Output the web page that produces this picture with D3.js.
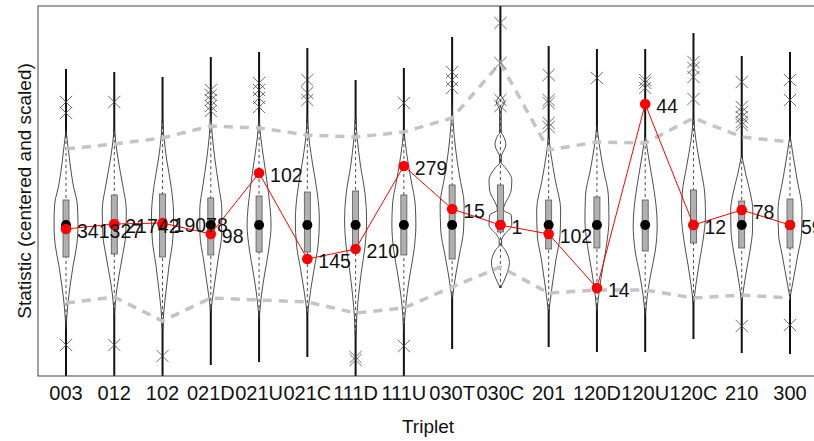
<!DOCTYPE html>
<html>
<head>
<meta charset="utf-8">
<script src="https://cdn.jsdelivr.net/npm/d3@7"></script>
<style>
  body { margin: 0; background: #fff; }
  svg { display: block; font-family: "Liberation Sans", Arial, sans-serif; }
</style>
</head>
<body>
<svg id="chart" width="814" height="441"></svg>
<script>
// triad types and the observed census counts
let triplets = ['003','012','102','021D','021U','021C','111D','111U','030T','030C','201','120D','120U','120C','210','300'];
let counts   = ['341327','21742','19078','98','102','145','210','279','15','1','102','14','44','12','78','59'];

// observed statistic (red) and simulated medians
let observed = [-0.08, 0.02, 0.04, -0.18, 1.04, -0.68, -0.48, 1.18, 0.32, 0, -0.18, -1.26, 2.42, 0, 0.3, 0];
let medians  = [0, 0, 0, 0, 0, 0, 0, 0, 0, 0, 0, 0, 0, 0, 0, 0];

// boxes (upper / lower quartile)
let q3 = [0.5, 0.6, 0.62, 0.54, 0.58, 0.66, 0.68, 0.6, 0.8, 0.8, 0.5, 0.56, 0.5, 0.7, 0.48, 0.52];
let q1 = [-0.64, -0.58, -0.64, -0.6, -0.54, -0.54, -0.52, -0.6, -0.68, -0.14, -0.48, -0.46, -0.52, -0.36, -0.46, -0.46];

// full range lines
let rangeHi = [3.12, 3.06, 2.96, 3.36, 3.46, 3.54, 2.9, 3.14, 3.76, 4.45, 3.58, 3.52, 3.52, 3.84, 3.38, 3.46];
let rangeLo = [-3.1, -3.1, -3.1, -2.8, -2.74, -2.64, -3.1, -3.1, -2.48, -1.26, -2.44, -2.54, -2.54, -2.28, -2.56, -2.58];

// grey dashed bounds
let upperBound = [1.52, 1.62, 1.74, 1.98, 1.94, 1.8, 1.76, 1.86, 2.14, 3.24, 1.5, 1.66, 1.64, 2.14, 1.76, 1.66];
let lowerBound = [-1.56, -1.44, -1.92, -1.46, -1.5, -1.54, -1.76, -1.66, -1.24, -0.84, -1.36, -1.3, -1.3, -1.46, -1.4, -1.46];

// outlying simulations
let outliers = [
  [2.46, 2.24, -2.4],
  [2.46, -2.4],
  [-2.62],
  [2.7, 2.6, 2.5, 2.38, 2.28],
  [2.84, 2.7, 2.54, 2.36],
  [2.9, 2.64, 2.5],
  [-2.64, -2.7],
  [2.44, -2.42],
  [3.06, 2.9, 2.74],
  [4.04, 3.24, 2.5, 2.38],
  [3.0, 2.5, 2.44, 2.04, 1.96],
  [2.94],
  [2.9, 2.84, 2.74],
  [3.26, 3.14, 2.96, 2.52],
  [2.86, 2.36, 2.26, 2.16, 2.06, 2.0, -2.02],
  [2.9, 2.5, -2.0]
];

// violin densities: [statistic, relative density]
let violins = [
  [[1.9,0],[1.6,0.15],[1.2,0.35],[0.8,0.6],[0.4,0.95],[0,1],[-0.4,0.9],[-0.8,0.6],[-1.2,0.35],[-1.6,0.15],[-2.1,0]],
  [[1.96,0],[1.6,0.15],[1.2,0.4],[0.8,0.7],[0.3,1],[-0.2,0.95],[-0.6,0.7],[-1.0,0.4],[-1.4,0.15],[-1.84,0]],
  [[2.2,0],[1.8,0.1],[1.3,0.35],[0.8,0.7],[0.2,0.92],[-0.3,0.85],[-0.8,0.55],[-1.3,0.3],[-1.7,0.12],[-2.16,0]],
  [[2.3,0],[1.8,0.12],[1.3,0.35],[0.8,0.65],[0.3,0.92],[-0.2,0.9],[-0.7,0.6],[-1.2,0.3],[-1.5,0.12],[-1.76,0]],
  [[2.24,0],[1.8,0.12],[1.3,0.4],[0.7,0.75],[0,1],[-0.5,0.8],[-1.0,0.45],[-1.4,0.2],[-1.9,0]],
  [[2.2,0],[1.7,0.15],[1.2,0.45],[0.6,0.85],[0.1,1],[-0.4,0.9],[-0.9,0.55],[-1.3,0.28],[-1.8,0]],
  [[2.2,0],[1.7,0.15],[1.2,0.4],[0.6,0.8],[0.1,0.92],[-0.4,0.8],[-0.9,0.5],[-1.4,0.25],[-1.9,0.08],[-2.3,0]],
  [[1.9,0],[1.4,0.25],[0.9,0.6],[0.4,0.95],[0,1],[-0.5,0.85],[-1.0,0.5],[-1.5,0.2],[-2.16,0]],
  [[2.44,0],[2.0,0.1],[1.5,0.3],[1.0,0.6],[0.4,1],[-0.1,0.95],[-0.6,0.6],[-1.0,0.3],[-1.5,0]],
  [[2.6,0],[2.45,0.33],[2.3,0.05],[1.9,0.05],[1.85,0.05],[1.8,0.2],[1.6,0.45],[1.35,0.05],[1.25,0.05],[1.15,0.4],[0.9,0.95],[0.7,0.9],[0.3,0.25],[0.2,0.9],[0,0.95],[-0.2,0.3],[-0.3,0.1],[-0.4,0.1],[-0.5,0.4],[-0.75,0.75],[-1.0,0.5],[-1.26,0]],
  [[1.8,0],[1.4,0.2],[0.9,0.55],[0.3,1],[-0.2,0.95],[-0.7,0.6],[-1.2,0.3],[-1.76,0]],
  [[2.0,0],[1.6,0.2],[1.1,0.55],[0.6,0.95],[0.1,1],[-0.4,0.8],[-0.9,0.45],[-1.3,0.2],[-1.74,0]],
  [[1.8,0],[1.4,0.25],[0.9,0.6],[0.4,0.9],[0,1],[-0.5,0.85],[-1.0,0.45],[-1.4,0.18],[-1.84,0]],
  [[2.16,0],[1.7,0.2],[1.2,0.55],[0.6,0.95],[0.2,1],[-0.3,0.8],[-0.8,0.45],[-1.2,0.2],[-1.6,0]],
  [[1.4,0],[1.0,0.35],[0.6,0.75],[0.3,0.92],[-0.1,0.9],[-0.5,0.7],[-0.9,0.4],[-1.2,0.2],[-1.54,0]],
  [[1.8,0],[1.4,0.25],[0.9,0.6],[0.3,1],[-0.2,0.95],[-0.6,0.65],[-1.0,0.35],[-1.46,0]]
];

let svg = d3.select('#chart');
let plotLeft = 38, plotTop = 6, plotBottom = 376, plotRight = 830;

let x = d3.scalePoint().domain(triplets).range([66, 790]);
let y = d3.scaleLinear().domain([-3.02, 4.38]).range([plotBottom, plotTop]);
let w = d3.scaleLinear().domain([0, 1]).range([0, 12]);

svg.append('clipPath').attr('id', 'plot')
  .append('rect').attr('x', plotLeft).attr('y', plotTop)
  .attr('width', plotRight - plotLeft).attr('height', plotBottom - plotTop);

let g = svg.append('g').attr('clip-path', 'url(#plot)');

// range lines
g.selectAll('.range')
  .data(triplets)
  .enter()
  .append('line')
  .attr('x1', d => x(d)).attr('x2', d => x(d))
  .attr('y1', (d, i) => y(rangeHi[i]))
  .attr('y2', (d, i) => y(rangeLo[i]))
  .attr('stroke', '#111')
  .attr('stroke-width', 2);

// violins
triplets.forEach((t, i) => {
  let area = d3.area()
    .curve(d3.curveMonotoneY)
    .y(d => y(d[0]))
    .x0(d => x(t) - w(d[1]))
    .x1(d => x(t) + w(d[1]));
  let pts = violins[i].slice().reverse();
  g.append('path')
    .attr('d', area(pts))
    .attr('fill', '#fff')
    .attr('stroke', '#222')
    .attr('stroke-width', 0.8);
  g.append('line')
    .attr('x1', x(t)).attr('x2', x(t))
    .attr('y1', y(pts[0][0])).attr('y2', y(pts[pts.length - 1][0]))
    .attr('stroke', '#222')
    .attr('stroke-width', 0.8)
    .attr('stroke-dasharray', '3,3');
});

// boxes
g.selectAll('.box')
  .data(triplets)
  .enter()
  .append('rect')
  .attr('x', d => x(d) - 3)
  .attr('width', 6)
  .attr('y', (d, i) => y(q3[i]))
  .attr('height', (d, i) => y(q1[i]) - y(q3[i]))
  .attr('fill', '#b0b0b0')
  .attr('stroke', '#555')
  .attr('stroke-width', 0.8);

// bounds
let boundLine = d3.line().x(d => x(d.t)).y(d => y(d.v));
[upperBound, lowerBound].forEach(b => {
  g.append('path')
    .attr('d', boundLine(triplets.map((t, i) => ({t: t, v: b[i]}))))
    .attr('fill', 'none')
    .attr('stroke', '#c4c4c4')
    .attr('stroke-width', 3.5)
    .attr('stroke-dasharray', '9,7');
});

// outliers as crosses
triplets.forEach((t, i) => {
  outliers[i].forEach(v => {
    g.append('path')
      .attr('d', d3.symbol(d3.symbolTimes, 100)())
      .attr('transform', 'translate(' + x(t) + ',' + y(v) + ')')
      .attr('fill', 'none')
      .attr('stroke', '#444')
      .attr('stroke-opacity', 0.85)
      .attr('stroke-width', 0.9);
  });
});

// medians
g.selectAll('.median')
  .data(triplets)
  .enter()
  .append('circle')
  .attr('cx', d => x(d))
  .attr('cy', (d, i) => y(medians[i]))
  .attr('r', 5)
  .attr('fill', '#000');

// observed line and points
g.append('path')
  .attr('d', d3.line().x(d => x(d.t)).y(d => y(d.v))(triplets.map((t, i) => ({t: t, v: observed[i]}))))
  .attr('fill', 'none')
  .attr('stroke', '#ff0000')
  .attr('stroke-width', 1);

g.selectAll('.obs')
  .data(triplets)
  .enter()
  .append('circle')
  .attr('cx', d => x(d))
  .attr('cy', (d, i) => y(observed[i]))
  .attr('r', 5.3)
  .attr('fill', '#ff0000');

svg.selectAll('.count')
  .data(triplets)
  .enter()
  .append('text')
  .attr('x', d => x(d) + 11)
  .attr('y', (d, i) => y(observed[i]) + 9)
  .attr('font-size', 19.5)
  .attr('fill', '#111')
  .text((d, i) => counts[i]);

// frame
svg.append('rect')
  .attr('x', plotLeft).attr('y', plotTop)
  .attr('width', plotRight - plotLeft).attr('height', plotBottom - plotTop)
  .attr('fill', 'none')
  .attr('stroke', '#444')
  .attr('stroke-width', 1);

// x labels
svg.selectAll('.xlab')
  .data(triplets)
  .enter()
  .append('text')
  .attr('x', d => x(d))
  .attr('y', 400)
  .attr('text-anchor', 'middle')
  .attr('font-size', 20)
  .attr('fill', '#111')
  .text(d => d);

svg.append('text')
  .attr('x', 428).attr('y', 433)
  .attr('text-anchor', 'middle')
  .attr('font-size', 19)
  .attr('fill', '#111')
  .text('Triplet');

svg.append('text')
  .attr('transform', 'translate(31,191) rotate(-90)')
  .attr('text-anchor', 'middle')
  .attr('font-size', 19)
  .attr('fill', '#111')
  .text('Statistic (centered and scaled)');
</script>
</body>
</html>
